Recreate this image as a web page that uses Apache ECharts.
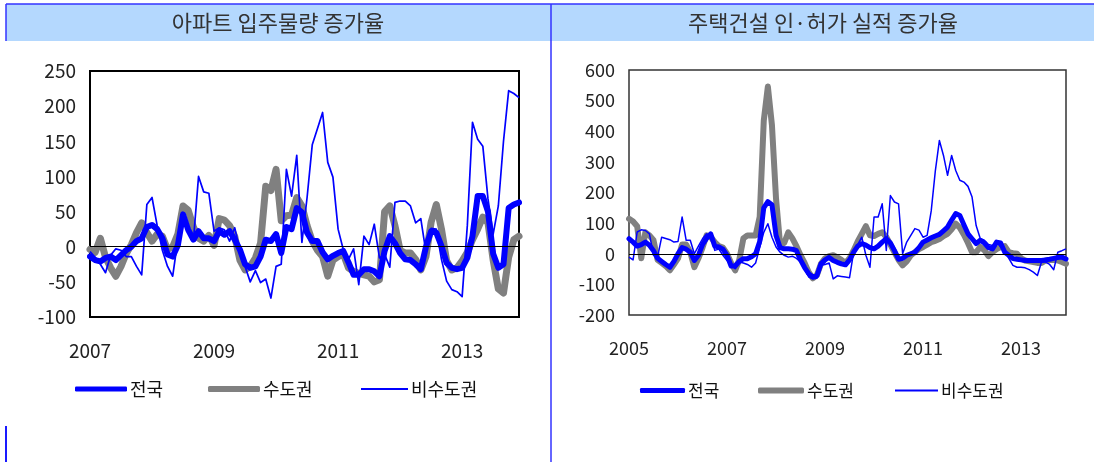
<!DOCTYPE html>
<html>
<head>
<meta charset="utf-8">
<script src="https://cdn.jsdelivr.net/npm/echarts@6/dist/echarts.min.js"></script>
<style>
  html, body { margin: 0; padding: 0; background: #fff; }
  #chart { width: 1094px; height: 462px; }
</style>
</head>
<body>
<div id="chart"></div>
<script>
// ---- Panel titles ----
const leftTitle = '아파트 입주물량 증가율';
const rightTitle = '주택건설 인·허가 실적 증가율';
const seriesNames = ['전국', '수도권', '비수도권'];

// ---- Left panel: apartment move-in volume growth (%), monthly 2007.01–2013.12 ----
const leftStartYear = 2007, leftEndYear = 2013;
const leftNational = [
  -14,-19,-21,-16,-14,-19,-12,-5,0,8,12,28,
  31,25,12,-11,-14,2,46,24,10,22,12,12,
  8,22,17,22,10,-4,-25,-30,-28,-14,10,8,
  18,-9,28,25,55,49,20,8,8,-8,-18,-13,
  -9,-6,-22,-40,-40,-32,-32,-35,-42,-6,15,5,
  -9,-18,-19,-25,-32,0,22,20,1,-23,-30,-32,
  -30,-16,15,72,72,50,-10,-30,-25,55,60,63
];
const leftCapital = [
  -4,-8,12,-15,-30,-42,-28,-10,3,20,34,20,
  8,18,15,-4,0,18,58,52,28,12,8,16,
  2,40,38,30,15,-19,-33,-28,-16,5,86,80,
  110,37,44,45,70,58,30,8,-5,-14,-42,-19,
  -14,-10,-30,-35,-38,-40,-42,-50,-47,50,58,30,
  -5,-9,-9,-18,-33,-14,35,60,25,-20,-33,-30,
  -20,-8,10,25,42,34,-19,-60,-66,-15,10,15
];
const leftNonCapital = [
  -7,-15,-25,-37,-12,-3,-5,-14,-14,-28,-40,60,
  70,30,-5,-28,-42,10,46,29,8,100,78,76,
  22,27,24,8,27,-5,-28,-50,-34,-51,-46,-73,
  -28,-25,110,72,130,6,70,145,168,191,120,99,
  25,-4,-18,-3,-54,15,3,32,-16,-11,-29,63,
  65,65,58,34,40,-8,26,25,-18,-49,-61,-64,
  -71,30,177,153,143,68,18,58,150,222,218,212
];
const leftYAxis = { min: -100, max: 250, interval: 50 };

// ---- Right panel: housing construction permits growth (%), monthly 2005.01–2013.12 ----
const rightStartYear = 2005, rightEndYear = 2013;
const rightNational = [
  49,38,25,30,38,28,10,-15,-25,-35,-44,-25,
  0,20,15,5,-22,-5,30,50,65,25,22,15,
  -5,-40,-40,-25,-16,-16,-10,0,40,150,170,160,
  60,20,16,16,15,10,-20,-45,-65,-76,-72,-33,
  -20,-12,-22,-28,-33,-36,-20,5,25,33,28,20,
  16,25,38,49,35,10,-18,-15,-5,0,5,20,
  38,45,52,58,63,75,87,110,131,125,95,65,
  49,33,44,35,20,16,38,35,5,-5,-16,-18,
  -20,-22,-22,-22,-22,-22,-20,-18,-15,-12,-11,-17
];
const rightCapital = [
  114,105,90,-15,70,60,44,-20,-30,-40,-54,-35,
  -15,30,30,5,-44,-15,20,60,55,38,25,20,
  0,-30,-54,-20,50,60,60,60,120,435,546,420,
  180,30,35,70,50,25,-5,-30,-60,-80,-70,-33,
  -15,-8,-5,-12,-20,-30,-15,11,40,65,90,60,
  58,65,70,55,30,5,-20,-38,-25,-5,5,15,
  22,30,38,42,48,58,65,80,98,85,62,35,
  5,5,22,12,-8,5,15,22,25,5,2,0,
  -15,-22,-25,-27,-30,-30,-22,-20,-20,-22,-27,-33
];
const rightNonCapital = [
  -11,-20,71,78,76,65,-5,-10,54,50,46,38,
  40,120,44,44,0,25,49,65,60,11,15,-5,
  -22,-35,-49,-27,-30,-35,-44,-30,20,70,98,54,
  22,5,-5,-11,-8,-15,-27,-50,-76,-82,-80,-38,
  -35,-30,-82,-72,-74,-76,-78,5,30,54,-5,-44,
  120,120,163,11,190,169,163,0,38,60,82,77,
  54,60,140,270,370,321,256,321,272,240,234,220,
  185,92,50,44,30,27,38,22,10,-15,-38,-44,
  -44,-46,-52,-60,-71,-27,-27,-35,-52,5,10,16
];
const rightYAxis = { min: -200, max: 600, interval: 100 };

// Monthly category labels "YYYY-MM"
function monthLabels(y0, y1) {
  const out = [];
  for (let y = y0; y <= y1; y++) {
    for (let m = 1; m <= 12; m++) out.push(y + '-' + (m < 10 ? '0' + m : m));
  }
  return out;
}
const leftMonths = monthLabels(leftStartYear, leftEndYear);
const rightMonths = monthLabels(rightStartYear, rightEndYear);

const FONT = '"Noto Sans CJK KR", "Noto Sans", sans-serif';
const BLUE = '#0000ff';
const GRAY = '#808080';
const FRAME_BLUE = '#3333ff';

// Show a year label on January of odd years
function oddYearJanuary(idx, val) {
  return val.slice(5) === '01' && (+val.slice(0, 4)) % 2 === 1;
}

function xAxisFor(gridIndex, months, fontSize) {
  return {
    type: 'category', gridIndex, data: months, boundaryGap: false,
    axisLine: { show: false }, axisTick: { show: false }, splitLine: { show: false },
    axisLabel: {
      interval: oddYearJanuary, formatter: v => v.slice(0, 4),
      fontFamily: FONT, fontSize, color: '#222', margin: 24
    }
  };
}
function yAxisFor(gridIndex, ax, fontSize) {
  return {
    type: 'value', gridIndex, min: ax.min, max: ax.max, interval: ax.interval,
    axisLine: { show: false }, axisTick: { show: false }, splitLine: { show: false },
    axisLabel: { fontFamily: FONT, fontSize, color: '#222', margin: 14 }
  };
}
function panelSeries(axisIndex, national, capital, nonCapital, w) {
  return [
    {
      name: seriesNames[1], type: 'line', xAxisIndex: axisIndex, yAxisIndex: axisIndex,
      data: capital, symbol: 'none', z: 2,
      lineStyle: { color: GRAY, width: w.capital, join: 'round', cap: 'round' },
      itemStyle: { color: GRAY },
      markLine: {
        silent: true, symbol: 'none', label: { show: false },
        lineStyle: { color: '#000', width: 1, type: 'solid' },
        data: [{ yAxis: 0 }]
      }
    },
    {
      name: seriesNames[0], type: 'line', xAxisIndex: axisIndex, yAxisIndex: axisIndex,
      data: national, symbol: 'none', z: 3,
      lineStyle: { color: BLUE, width: w.national, join: 'round', cap: 'round' },
      itemStyle: { color: BLUE }
    },
    {
      name: seriesNames[2], type: 'line', xAxisIndex: axisIndex, yAxisIndex: axisIndex,
      data: nonCapital, symbol: 'none', z: 4,
      lineStyle: { color: BLUE, width: w.nonCapital, join: 'round' },
      itemStyle: { color: BLUE }
    }
  ];
}
function legendItem(name, left, centerY, itemWidth, itemHeight, icon, color, fontSize) {
  return {
    data: [name], left, top: centerY - 11, padding: 0, itemWidth, itemHeight, icon,
    selectedMode: false, itemGap: 0,
    itemStyle: { color },
    textStyle: { fontFamily: FONT, fontSize, color: '#111', padding: [0, 0, 0, -2] }
  };
}

const chart = echarts.init(document.getElementById('chart'), null, { renderer: 'canvas' });
chart.setOption({
  animation: false,
  backgroundColor: '#fff',
  graphic: [
    { type: 'rect', shape: { x: 6, y: 4, width: 545, height: 37 }, style: { fill: '#b4d8fe' }, silent: true },
    { type: 'rect', shape: { x: 551, y: 4, width: 543, height: 37 }, style: { fill: '#b4d8fe' }, silent: true },
    { type: 'line', shape: { x1: 6, y1: 4, x2: 1094, y2: 4 }, style: { stroke: FRAME_BLUE, lineWidth: 1.5 }, silent: true },
    { type: 'line', shape: { x1: 6, y1: 4, x2: 6, y2: 41 }, style: { stroke: FRAME_BLUE, lineWidth: 1.5 }, silent: true },
    { type: 'line', shape: { x1: 551, y1: 4, x2: 551, y2: 462 }, style: { stroke: FRAME_BLUE, lineWidth: 1.5 }, silent: true },
    { type: 'line', shape: { x1: 6, y1: 426, x2: 6, y2: 462 }, style: { stroke: '#1a1aff', lineWidth: 2 }, silent: true },
    { type: 'text', x: 278, y: 23, silent: true,
      style: { text: leftTitle, textAlign: 'center', textVerticalAlign: 'middle', font: '22px ' + FONT, fill: '#333' } },
    { type: 'text', x: 823, y: 23, silent: true,
      style: { text: rightTitle, textAlign: 'center', textVerticalAlign: 'middle', font: '22px ' + FONT, fill: '#333' } }
  ],
  grid: [
    { left: 90, width: 429, top: 71, height: 246, show: true, borderColor: '#000', borderWidth: 2, backgroundColor: 'transparent' },
    { left: 629, width: 437, top: 70, height: 245, show: true, borderColor: '#333', borderWidth: 1.5, backgroundColor: 'transparent' }
  ],
  xAxis: [xAxisFor(0, leftMonths, 19), xAxisFor(1, rightMonths, 18)],
  yAxis: [yAxisFor(0, leftYAxis, 19), yAxisFor(1, rightYAxis, 18)],
  legend: [
    legendItem(seriesNames[0], 75, 391, 52, 5, 'roundRect', BLUE, 18),
    legendItem(seriesNames[1], 208, 391, 52, 6, 'roundRect', GRAY, 18),
    legendItem(seriesNames[2], 361, 391, 47, 2, 'rect', BLUE, 18),
    legendItem(seriesNames[0], 640, 393, 45, 5, 'roundRect', BLUE, 17),
    legendItem(seriesNames[1], 758, 393, 46, 6, 'roundRect', GRAY, 17),
    legendItem(seriesNames[2], 895, 393, 43, 2, 'rect', BLUE, 17)
  ],
  series: [
    ...panelSeries(0, leftNational, leftCapital, leftNonCapital, { national: 6, capital: 7, nonCapital: 1.7 }),
    ...panelSeries(1, rightNational, rightCapital, rightNonCapital, { national: 5, capital: 6, nonCapital: 1.5 })
  ]
});
</script>
</body>
</html>
